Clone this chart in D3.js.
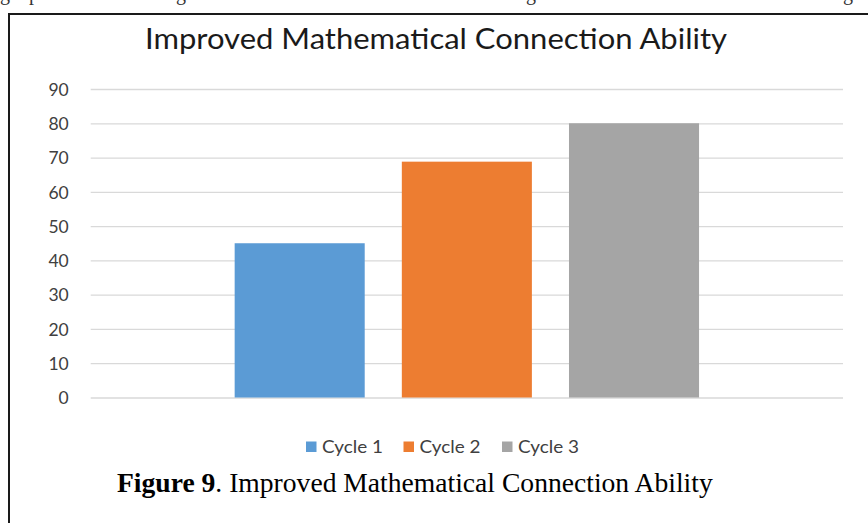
<!DOCTYPE html>
<html>
<head>
<meta charset="utf-8">
<script src="https://cdn.jsdelivr.net/npm/d3@7"></script>
<style>
  html, body { margin: 0; padding: 0; background: #fff; }
  svg { display: block; }
</style>
</head>
<body>
<script>
// ---- data ----
const title = "Improved Mathematical Connection Ability";
const categories = ["Improved Mathematical Connection Ability"];
const series = ["Cycle 1", "Cycle 2", "Cycle 3"];
const values = [45, 68.8, 80];
const colors = ["#5B9BD5", "#ED7D31", "#A5A5A5"];
const yTicks = [0, 10, 20, 30, 40, 50, 60, 70, 80, 90];
const captionBold = "Figure 9";
const captionRest = ". Improved Mathematical Connection Ability";

const W = 868, H = 523;
const svg = d3.select("body").append("svg").attr("width", W).attr("height", H);
svg.append("rect").attr("width", W).attr("height", H).attr("fill", "#fff");

// clipped fragments of the previous page line (descenders only)
const frag = svg.append("g").attr("font-family", "'Liberation Serif', serif").attr("font-size", 20).attr("fill", "#333");
[["g", 0], ["p", 29], ["g", 176], ["g", 526], ["g", 843]].forEach(([t, x]) => {
  frag.append("text").attr("x", x).attr("y", -0.5).text(t);
});

// frame (left and top border)
svg.append("path").attr("d", `M9,${H} V14 H${W}`).attr("fill", "none").attr("stroke", "#1a1a1a").attr("stroke-width", 2);

// plot area
const plotL = 90.7, plotR = 843, yTop = 89, yBot = 397.5;
const y = d3.scaleLinear().domain([0, 90]).range([yBot, yTop]);
const x0 = d3.scaleBand().domain(categories).range([plotL, plotR]).paddingInner(0).paddingOuter(0.31);
const x1 = d3.scaleBand().domain(series).range([0, x0.bandwidth()]).paddingInner(0.222).paddingOuter(0);

// gridlines + tick labels
const yAxis = d3.axisLeft(y).tickValues(yTicks).tickSize(-(plotR - plotL)).tickPadding(22);
const ga = svg.append("g").attr("transform", `translate(${plotL},0)`).call(yAxis);
ga.select(".domain").remove();
ga.selectAll(".tick line").attr("stroke", "#D9D9D9").attr("stroke-width", 1.3);
ga.selectAll(".tick text").attr("font-family", "Lato, 'Open Sans', sans-serif").attr("font-size", 17.5)
  .attr("fill", "#404040").attr("dy", "0.36em");

// bars
const gb = svg.append("g").attr("transform", `translate(${x0(categories[0])},0)`);
gb.selectAll("rect").data(series).join("rect")
  .attr("x", d => x1(d))
  .attr("width", x1.bandwidth())
  .attr("y", (d, i) => y(values[i]))
  .attr("height", (d, i) => y(0) - y(values[i]))
  .attr("fill", (d, i) => colors[i]);

// title
svg.append("text").attr("x", 145).attr("y", 49)
  .attr("font-family", "Lato, 'Open Sans', sans-serif").attr("font-size", 29)
  .attr("fill", "#1a1a1a")
  .attr("textLength", 582).attr("lengthAdjust", "spacingAndGlyphs")
  .text(title);

// legend
const lg = svg.append("g").attr("font-family", "Lato, 'Open Sans', sans-serif").attr("font-size", 18).attr("fill", "#404040");
const legX = d3.scaleOrdinal().domain(series).range([306, 403.5, 502]);
series.forEach((s, i) => {
  lg.append("rect").attr("x", legX(s)).attr("y", 441.5).attr("width", 10.5).attr("height", 10.5).attr("fill", colors[i]);
  lg.append("text").attr("x", legX(s) + 16).attr("y", 452.5)
    .attr("textLength", 61).attr("lengthAdjust", "spacingAndGlyphs").text(s);
});

// caption
const cap = svg.append("text").attr("x", 117).attr("y", 492)
  .attr("font-family", "'Liberation Serif', 'Times New Roman', serif").attr("font-size", 27.6).attr("fill", "#000");
cap.append("tspan").attr("font-weight", "bold").text(captionBold);
cap.append("tspan").text(captionRest);
</script>
</body>
</html>
